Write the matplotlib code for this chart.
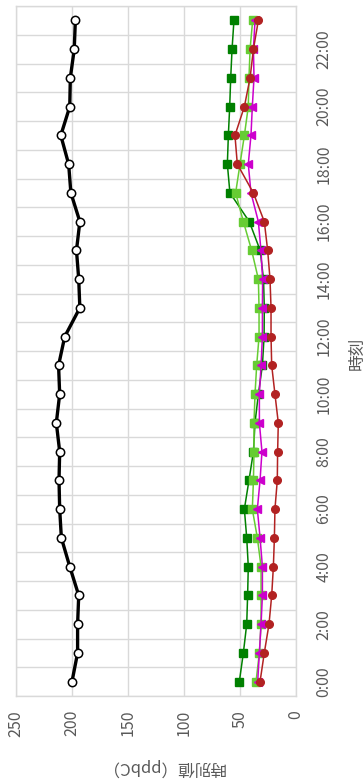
import matplotlib
matplotlib.use('Agg')
import matplotlib.pyplot as plt
import numpy as np

plt.rcParams['font.family'] = ['Noto Sans CJK JP', 'DejaVu Sans']

# 時刻 0:00 - 23:00
hours = list(range(24))
hour_labels = ['%d:00' % h for h in range(0, 24, 2)]

# 時別値 (ppbC)
total = [200, 195, 195, 194, 202, 209.5, 211, 211.6, 211, 214, 211, 212,
         206.5, 193, 194, 196, 193, 201, 203, 210, 202, 201.5, 198, 197]
dark_green = [50.6, 47, 44, 43.2, 42.6, 44, 46.1, 42, 38, 36.6, 33.6, 30,
              28.5, 28.3, 29, 32, 41.7, 59, 61.3, 60.4, 59.2, 58.3, 57.1, 55.4]
light_green = [35.7, 32.7, 31.2, 31.2, 31.2, 34.5, 39, 38, 37.5, 37.5, 36.6, 35.1,
               33, 33, 33.6, 39.6, 47, 53.9, 50, 46.1, 42.6, 42, 41, 38.7]
magenta = [34.2, 32.7, 31.2, 30, 30, 32.1, 34.5, 32.1, 30.4, 32.7, 32.7, 31.2,
           30, 30, 29.8, 31.3, 33.6, 40.2, 42.6, 40.2, 39, 37.5, 38, 36.6]
red = [32.1, 28.3, 24.1, 21.7, 20.2, 19.3, 18.8, 16.7, 16.4, 15.8, 18.8, 21.7,
       22.3, 22.3, 23.2, 25.3, 28.3, 38.1, 52.4, 54.5, 46.1, 41, 38, 33.6]

W, H = 364, 784
fig = plt.figure(figsize=(W / 100, H / 100), dpi=100)
ax = fig.add_axes([16 / W, (H - 696) / H, 280 / W, 690 / H])

grid_c = '#D9D9D9'
ax.plot(dark_green, hours, color='#008000', lw=1.1, marker='s', ms=5.2, zorder=3)
ax.plot(light_green, hours, color='#66CC33', lw=1.1, marker='s', ms=5.2, zorder=4)
ax.plot(magenta, hours, color='#CC00CC', lw=1.1, marker='<', ms=5.5, zorder=5)
ax.plot(red, hours, color='#B22222', lw=1.1, marker='o', ms=5.5, zorder=6)
ax.plot(total, hours, color='black', lw=2.4, marker='o', ms=6,
        mfc='white', mec='black', mew=1.1, zorder=7)

ax.set_xlim(250, 0)
ax.set_ylim(-0.5, 23.5)

ax.set_xticks(np.arange(0, 251, 50))
ax.set_xticklabels([str(v) for v in range(0, 251, 50)], rotation=90)
ax.set_yticks(range(0, 24, 2))
ax.set_yticklabels(hour_labels, rotation=90, va='center')
ax.set_yticks(np.arange(-0.5, 24, 1), minor=True)
ax.yaxis.tick_right()

ax.tick_params(axis='both', which='both', length=0, colors='#595959', labelsize=11.5)
ax.tick_params(axis='x', pad=10)
ax.tick_params(axis='y', pad=14)
ax.grid(axis='x', which='major', color=grid_c, lw=1)
ax.grid(axis='y', which='minor', color=grid_c, lw=1)
ax.set_axisbelow(True)
for s in ax.spines.values():
    s.set_color(grid_c)
    s.set_linewidth(1)

fig.text(162 / W, 1 - 767 / H, '時別値（ppbC）', rotation=180, ha='center', va='center',
         color='#595959', fontsize=12)
fig.text(357 / W, 1 - 353 / H, '時刻', rotation=90, ha='center', va='center',
         color='#595959', fontsize=12)

fig.savefig('out.png', dpi=100)
